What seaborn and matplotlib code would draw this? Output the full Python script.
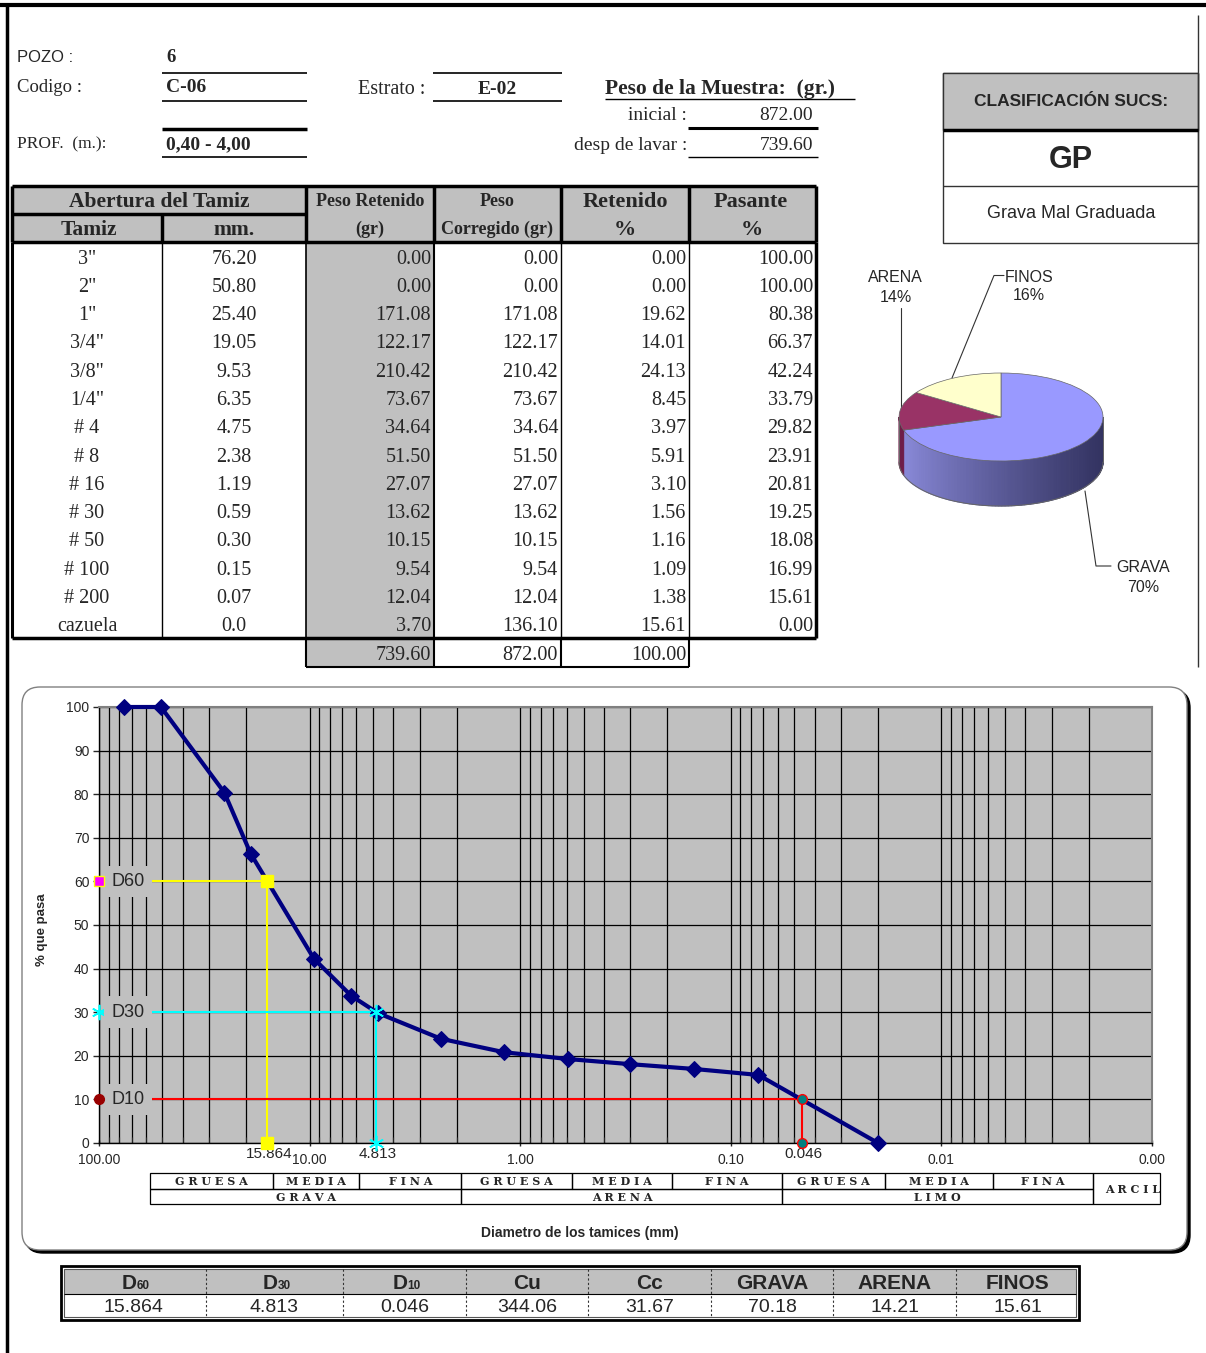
import matplotlib
matplotlib.use('Agg')
import matplotlib.pyplot as plt
import seaborn as sns
import numpy as np
from matplotlib.patches import Rectangle, FancyBboxPatch, Polygon
from matplotlib.ticker import LogLocator, FuncFormatter, NullFormatter

# ---- datos del ensayo ----
pozo = '6'
codigo = 'C-06'
estrato = 'E-02'
profundidad = '0,40 - 4,00'
peso_inicial = 872.00
peso_lavado = 739.60

tamiz = ['3"', '2"', '1"', '3/4"', '3/8"', '1/4"', '# 4', '# 8', '# 16', '# 30',
         '# 50', '# 100', '# 200', 'cazuela']
abertura_mm = ['76.20', '50.80', '25.40', '19.05', '9.53', '6.35', '4.75', '2.38',
               '1.19', '0.59', '0.30', '0.15', '0.07', '0.0']
diametro_grafico = [76.2, 50.8, 25.4, 19.05, 9.53, 6.35, 4.75, 2.38, 1.19, 0.59,
                    0.30, 0.15, 0.074, 0.02]
peso_retenido = [0.00, 0.00, 171.08, 122.17, 210.42, 73.67, 34.64, 51.50, 27.07,
                 13.62, 10.15, 9.54, 12.04, 3.70]
peso_corregido = [0.00, 0.00, 171.08, 122.17, 210.42, 73.67, 34.64, 51.50, 27.07,
                  13.62, 10.15, 9.54, 12.04, 136.10]
retenido_pct = [0.00, 0.00, 19.62, 14.01, 24.13, 8.45, 3.97, 5.91, 3.10, 1.56,
                1.16, 1.09, 1.38, 15.61]
pasante_pct = [100.00, 100.00, 80.38, 66.37, 42.24, 33.79, 29.82, 23.91, 20.81,
               19.25, 18.08, 16.99, 15.61, 0.00]
totales = [739.60, 872.00, 100.00]

d60, d30, d10 = 15.864, 4.813, 0.046
cu, cc = 344.06, 31.67
fracciones = ['GRAVA', 'ARENA', 'FINOS']
fracciones_pct = [70.18, 14.21, 15.61]
clasificacion = 'GP'
descripcion = 'Grava Mal Graduada'

# escala granulometrica bajo el grafico
limites_banda = [57, 15, 5.8, 1.9, 0.57, 0.19, 0.057, 0.0185, 0.0057, 0.0019, 0.00092]
sub_bandas = ['GRUESA', 'MEDIA', 'FINA'] * 3
bandas = ['GRAVA', 'ARENA', 'LIMO']

sns.set_style('white')
SERIF = 'Liberation Serif'
SANS = 'Liberation Sans'
NARROW = ['Liberation Sans Narrow', 'Liberation Sans']
plt.rcParams['font.family'] = [SANS, 'DejaVu Sans']

W, H = 1206, 1353
fig = plt.figure(figsize=(W / 100, H / 100), dpi=100)
cv = fig.add_axes([0, 0, 1, 1])
cv.set_xlim(0, W)
cv.set_ylim(H, 0)
cv.axis('off')


def px_axes(x0, y0, x1, y1):
    return fig.add_axes([x0 / W, 1 - y1 / H, (x1 - x0) / W, (y1 - y0) / H])


def hl(y, x0, x1, lw=1.0, color='black', **kw):
    cv.plot([x0, x1], [y, y], color=color, lw=lw, solid_capstyle='butt', **kw)


def vl(x, y0, y1, lw=1.0, color='black', **kw):
    cv.plot([x, x], [y0, y1], color=color, lw=lw, solid_capstyle='butt', **kw)


def txt(x, y, s, size, ha='left', weight='normal', family=SERIF, **kw):
    dy = 2 if family == SERIF else 0
    cv.text(x, y + dy, s, fontsize=size, ha=ha, va='center', fontweight=weight,
            family=family, **kw)


# marco de la hoja
hl(5, 0, W, lw=3)
vl(7, 5, H, lw=2.5)
vl(1198, 15, 667, lw=1, color='#333333')

# ---- encabezado ----
txt(17, 58, 'POZO :', 12, family=SANS)
txt(166, 55, pozo, 13.5, weight='bold')
txt(17, 86, 'Codigo :', 13.5)
txt(166, 86, codigo, 14, weight='bold')
txt(358, 87, 'Estrato :', 14.5)
txt(497, 87, estrato, 14, ha='center', weight='bold')
txt(17, 142, 'PROF.  (m.):', 12.5)
txt(166, 143, profundidad, 14, weight='bold')
hl(73, 162, 307, lw=1.2)
hl(101, 162, 307, lw=1.2)
hl(129, 162, 307, lw=2.5)
hl(157, 162, 307, lw=1.2)
hl(73, 433, 562, lw=1.2)
hl(101, 433, 562, lw=1.2)

txt(605, 87, 'Peso de la Muestra:  (gr.)', 15.5, weight='bold')
hl(99, 605, 855, lw=1)
txt(687, 114, 'inicial :', 14, ha='right')
txt(813, 114, f'{peso_inicial:.2f}', 14, ha='right')
txt(687, 144, 'desp de lavar :', 14, ha='right')
txt(813, 144, f'{peso_lavado:.2f}', 14, ha='right')
hl(128, 688, 818, lw=2.2)
hl(157, 688, 818, lw=1)

# ---- tabla granulometrica ----
cv.add_patch(Rectangle((12, 186), 804, 56, fc='#c0c0c0', ec='none'))
cv.add_patch(Rectangle((306, 242), 128, 425, fc='#c0c0c0', ec='none'))
hl(186, 12, 816, lw=2.5)
hl(214, 12, 306, lw=2.5)
hl(242, 12, 816, lw=2.5)
for x in [12, 306, 434, 561, 689, 816]:
    vl(x, 186, 242, lw=2.5)
vl(162, 214, 242, lw=2.5)

txt(159, 200, 'Abertura del Tamiz', 15.5, ha='center', weight='bold')
txt(89, 228, 'Tamiz', 15.5, ha='center', weight='bold')
txt(234, 228, 'mm.', 15.5, ha='center', weight='bold')
txt(370, 200, 'Peso Retenido', 13, ha='center', weight='bold')
txt(370, 227, '(gr)', 13, ha='center', weight='bold')
txt(497, 200, 'Peso', 13, ha='center', weight='bold')
txt(497, 227, 'Corregido (gr)', 13, ha='center', weight='bold')
txt(625, 200, 'Retenido', 16, ha='center', weight='bold')
txt(625, 228, '%', 16, ha='center', weight='bold')
txt(751, 200, 'Pasante', 16, ha='center', weight='bold')
txt(752, 228, '%', 16, ha='center', weight='bold')

vl(12, 242, 638, lw=2.2)
vl(162, 242, 638, lw=1)
vl(306, 242, 638, lw=1.2)
vl(434, 242, 638, lw=1.5)
vl(561, 242, 638, lw=1)
vl(689, 242, 638, lw=1)
vl(816, 242, 638, lw=2.5)
hl(638, 12, 816, lw=2.5)
for x in [306, 434, 561, 689]:
    vl(x, 638, 667, lw=1.5)
hl(667, 306, 689, lw=1.5)

for i in range(len(tamiz)):
    y = 257 + i * 28.3
    txt(87, y, tamiz[i], 14.5, ha='center')
    txt(234, y, abertura_mm[i], 14.5, ha='center')
    txt(431, y, f'{peso_retenido[i]:.2f}', 14.5, ha='right')
    txt(558, y, f'{peso_corregido[i]:.2f}', 14.5, ha='right')
    txt(686, y, f'{retenido_pct[i]:.2f}', 14.5, ha='right')
    txt(813, y, f'{pasante_pct[i]:.2f}', 14.5, ha='right')
for x, v in zip([431, 558, 686], totales):
    txt(x, 653, f'{v:.2f}', 14.5, ha='right')

# ---- clasificacion SUCS ----
cv.add_patch(Rectangle((943, 73), 255, 170, fc='white', ec='#333333', lw=1))
cv.add_patch(Rectangle((943, 73), 255, 57, fc='#c0c0c0', ec='#333333', lw=1))
hl(130, 943, 1198, lw=2.5)
hl(186, 943, 1198, lw=1, color='#333333')
txt(1071, 101, 'CLASIFICACIÓN SUCS:', 12.5, ha='center', weight='bold', family=SANS)
txt(1071, 160, clasificacion, 22, ha='center', weight='bold', family=SANS)
txt(1071, 213, descripcion, 13, ha='center', family=SANS)

# ---- grafico de torta (pseudo 3D) ----
pax = px_axes(1001 - 1.2 * 102, 417 - 1.3 * 44, 1001 + 1.2 * 102, 417 + 2.5 * 44)
colores_torta = ['#9999ff', '#993366', '#ffffcc']
pax.pie(fracciones_pct, colors=colores_torta, startangle=90, counterclock=False,
        wedgeprops=dict(edgecolor='#666666', linewidth=0.5))
pax.set_aspect('auto')
pax.set_xlim(-1.2, 1.2)
pax.set_ylim(-2.5, 1.3)
pax.axis('off')
depth = 45 / 44
cum = np.cumsum(fracciones_pct) / np.sum(fracciones_pct) * 360
ang_grava_fin = np.deg2rad(90 - cum[0])  # limite grava/arena (frente)
light = np.array([0.56, 0.56, 0.88])
dark = np.array([0.20, 0.20, 0.38])
ts = np.linspace(ang_grava_fin, 0, 90)
for t0, t1 in zip(ts[:-1], ts[1:]):
    xm = (np.cos(t0) + np.cos(t1)) / 2
    f = ((xm + 1) / 2) ** 0.8
    c = light + (dark - light) * f
    pax.add_patch(Polygon([(np.cos(t0), np.sin(t0)), (np.cos(t1), np.sin(t1)),
                           (np.cos(t1), np.sin(t1) - depth), (np.cos(t0), np.sin(t0) - depth)],
                          closed=True, fc=c, ec=c, lw=0.8, zorder=0))
ta = np.linspace(-np.pi, ang_grava_fin, 12)
pax.add_patch(Polygon(list(zip(np.cos(ta), np.sin(ta))) +
                      list(zip(np.cos(ta[::-1]), np.sin(ta[::-1]) - depth)),
                      closed=True, fc='#6e1d48', ec='#6e1d48', lw=0.8, zorder=0))
tb = np.linspace(-np.pi, 0, 100)
pax.plot(np.cos(tb), np.sin(tb) - depth, color='#666666', lw=0.7)
pax.plot([-1, -1], [0, -depth], color='#666666', lw=0.7)
pax.plot([1, 1], [0, -depth], color='#666666', lw=0.7)

txt(895, 278, 'ARENA', 11.5, ha='center', family=SANS)
txt(896, 297, f'{round(fracciones_pct[1]):d}%', 11.5, ha='center', family=SANS)
txt(1029, 277, 'FINOS', 11.5, ha='center', family=SANS)
txt(1029, 295, f'{round(fracciones_pct[2]):d}%', 11.5, ha='center', family=SANS)
txt(1143, 567, 'GRAVA', 11.5, ha='center', family=SANS)
txt(1143, 587, f'{round(fracciones_pct[0]):d}%', 11.5, ha='center', family=SANS)
cv.plot([900.5, 900.5], [308, 412], color='#333333', lw=0.8)
cv.plot([1004, 994, 952], [275.5, 275.5, 378], color='#333333', lw=0.8)
cv.plot([1111, 1096, 1085], [566, 566, 491], color='#333333', lw=0.8)

# ---- marco del grafico ----
cv.add_patch(FancyBboxPatch((25, 690), 1165, 563,
                            boxstyle='round,pad=0,rounding_size=18',
                            fc='black', ec='black', lw=1))
cv.add_patch(FancyBboxPatch((22, 687), 1165, 563,
                            boxstyle='round,pad=0,rounding_size=18',
                            fc='white', ec='#808080', lw=1))

# ---- curva granulometrica ----
ax = px_axes(99, 707, 1152, 1143)
ax.set_facecolor('#c0c0c0')
ax.set_xscale('log')
sns.lineplot(x=diametro_grafico, y=pasante_pct, ax=ax, color='#000080', lw=3,
             marker='D', markersize=8, markeredgecolor='#000080', zorder=5,
             clip_on=False)
ax.set_xlim(100, 0.001)
ax.set_ylim(0, 100)
ax.xaxis.set_major_locator(LogLocator(base=10, numticks=12))
ax.xaxis.set_minor_locator(LogLocator(base=10, subs=np.arange(2, 10), numticks=40))
ax.xaxis.set_major_formatter(FuncFormatter(lambda v, p: f'{v:.2f}'))
ax.xaxis.set_minor_formatter(NullFormatter())
ax.set_yticks(range(0, 101, 10))
ax.grid(which='both', axis='x', color='black', lw=0.9)
ax.grid(which='major', axis='y', color='black', lw=0.9)
ax.set_axisbelow(True)
for s in ['top', 'right']:
    ax.spines[s].set_color('#808080')
    ax.spines[s].set_linewidth(1.5)
for s in ['left', 'bottom']:
    ax.spines[s].set_color('black')
    ax.spines[s].set_linewidth(1)
ax.tick_params(axis='y', which='major', length=4, width=1, pad=3, labelsize=10, direction='out', left=True)
ax.tick_params(axis='x', which='major', length=5, width=1, pad=5, labelsize=10, direction='inout', bottom=True)
ax.tick_params(axis='x', which='minor', length=4, width=0.8, direction='in', bottom=True)
ax.set_xlabel('')
ax.set_ylabel('')

ax.plot([100, d60, d60], [60, 60, 0], color='yellow', lw=1.5, zorder=4, clip_on=False)
ax.plot([d60, d60], [60, 0], 's', color='yellow', ms=8, zorder=6, clip_on=False)
ax.plot([100], [60], 's', mfc='magenta', mec='yellow', ms=7, zorder=7, clip_on=False)
ax.plot([100, d30, d30], [30, 30, 0], color='cyan', lw=1.5, zorder=4, clip_on=False)
ax.plot([d30, d30, 100], [30, 0, 30], ls='none', marker=(6, 2, 0), color='cyan',
        ms=11, mew=1.2, zorder=6, clip_on=False)
ax.plot([100, d10, d10], [10, 10, 0], color='red', lw=1.5, zorder=4, clip_on=False)
ax.plot([d10, d10], [10, 0], 'o', mfc='#008080', mec='red', ms=7, zorder=6, clip_on=False)
ax.plot([100], [10], 'o', color='#990000', ms=7, zorder=7, clip_on=False)
for yv, lab in [(60, 'D60'), (30, 'D30'), (10, 'D10')]:
    ax.text(73, yv, lab, ha='center', va='center', fontsize=13, zorder=6.5,
            bbox=dict(boxstyle='square,pad=0.4', fc='#c0c0c0', ec='none'))
for xv in [d60, d30, d10]:
    ax.annotate(f'{xv:.3f}', xy=(xv, 0), xycoords=('data', 'axes fraction'),
                xytext=(1, -8), textcoords='offset points', ha='center',
                va='center', fontsize=11, annotation_clip=False)

fig.text(42 / W, 1 - 930 / H, '% que pasa', rotation=90, ha='center', va='center',
         fontsize=9.5, fontweight='bold')
fig.text(580 / W, 1 - 1233 / H, 'Diametro de los tamices (mm)', ha='center',
         va='center', fontsize=10, fontweight='bold')

# ---- escala de clasificacion ----
bax = px_axes(99, 1173, 1152, 1204)
bax.set_xscale('log')
bax.set_xlim(100, 0.001)
bax.set_ylim(2, 0)
bax.axis('off')
for i, nombre in enumerate(sub_bandas):
    a, b = limites_banda[i], limites_banda[i + 1]
    bax.add_patch(Rectangle((b, 0), a - b, 1, fc='none', ec='black', lw=0.9, clip_on=False))
    bax.text(np.sqrt(a * b), 0.55, ' '.join(nombre), ha='center', va='center',
             fontsize=8, fontweight='bold', family='DejaVu Serif', clip_on=False)
for j, nombre in enumerate(bandas):
    a, b = limites_banda[3 * j], limites_banda[3 * j + 3]
    bax.add_patch(Rectangle((b, 1), a - b, 1, fc='none', ec='black', lw=0.9, clip_on=False))
    bax.text(np.sqrt(a * b), 1.55, ' '.join(nombre), ha='center', va='center',
             fontsize=8, fontweight='bold', family='DejaVu Serif', clip_on=False)
a, b = limites_banda[9], limites_banda[10]
arc = Rectangle((b, 0), a - b, 2, fc='none', ec='black', lw=0.9, clip_on=False)
bax.add_patch(arc)
t_arc = bax.text(a * 0.88, 1.05, ' '.join('ARCILLA'), ha='left', va='center',
                 fontsize=8, fontweight='bold', family='DejaVu Serif')
t_arc.set_clip_on(True)
t_arc.set_clip_box(None)
t_arc.set_clip_path(arc)

# ---- resumen ----
cv.add_patch(Rectangle((61, 1266), 1018, 54, fc='white', ec='black', lw=2))
cv.add_patch(Rectangle((64, 1269), 1012, 25, fc='#c0c0c0', ec='none'))
cv.add_patch(Rectangle((64, 1269), 1012, 48, fc='none', ec='#555555', lw=0.8))
hl(1294, 64, 1076, lw=0.8)
sep = [61, 206, 343, 466, 588, 711, 833, 956, 1079]
for x in sep[1:-1]:
    vl(x, 1269, 1317, lw=0.8, color='#333333', ls=(0, (2, 2)))
valores = [f'{d60:.3f}', f'{d30:.3f}', f'{d10:.3f}', f'{cu:.2f}', f'{cc:.2f}',
           f'{fracciones_pct[0]:.2f}', f'{fracciones_pct[1]:.2f}', f'{fracciones_pct[2]:.2f}']
titulos = [('D', '60'), ('D', '30'), ('D', '10'), ('Cu', ''), ('Cc', ''),
           ('GRAVA', ''), ('ARENA', ''), ('FINOS', '')]
for k in range(8):
    xc = (sep[k] + sep[k + 1]) / 2
    big, small = titulos[k]
    if small:
        cv.text(xc + 3, 1289, big, fontsize=15, ha='right', va='baseline',
                fontweight='bold', family=NARROW)
        cv.text(xc + 3, 1289, small, fontsize=8.5, ha='left', va='baseline',
                fontweight='bold', family=NARROW)
    else:
        cv.text(xc, 1289, big, fontsize=15, ha='center', va='baseline',
                fontweight='bold', family=NARROW)
    cv.text(xc, 1307, valores[k], fontsize=14, ha='center', va='center', family=NARROW)

fig.savefig('out.png', dpi=100)
